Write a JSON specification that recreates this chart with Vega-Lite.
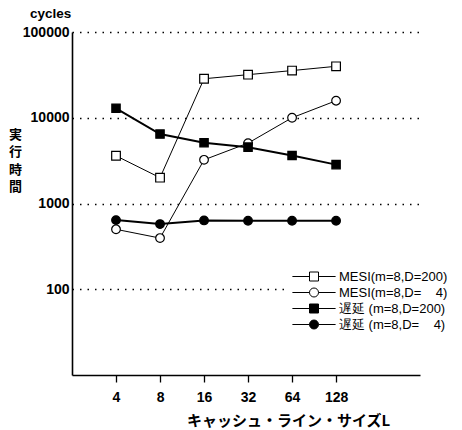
{
  "$schema": "https://vega.github.io/schema/vega-lite/v6.json",
  "width": 348,
  "height": 343,
  "autosize": "none",
  "padding": {"left": 72, "top": 32, "right": 42, "bottom": 55},
  "background": "white",
  "config": {"view": {"stroke": null}, "font": "Liberation Sans",
    "legend": {"title": null, "orient": "none", "legendX": 214.5, "legendY": 234, "fillColor": "white", "padding": 4,
      "labelFont": "Liberation Sans", "labelFontSize": 13, "labelColor": "black", "labelOffset": 18.5,
      "symbolSize": 81, "symbolOffset": 17}},
  "title": {"text": "cycles", "anchor": "start", "frame": "group", "dx": -42, "offset": 5, "fontSize": 13.5, "fontWeight": "bold", "font": "Liberation Sans", "color": "black"},
  "data": {"values": [
    {"L": 4, "series": "MESI(m=8,D=200)", "cycles": 3600},
    {"L": 8, "series": "MESI(m=8,D=200)", "cycles": 2000},
    {"L": 16, "series": "MESI(m=8,D=200)", "cycles": 28500},
    {"L": 32, "series": "MESI(m=8,D=200)", "cycles": 31800},
    {"L": 64, "series": "MESI(m=8,D=200)", "cycles": 35500},
    {"L": 128, "series": "MESI(m=8,D=200)", "cycles": 39800},
    {"L": 4, "series": "MESI(m=8,D=\u2007\u20074)", "cycles": 500},
    {"L": 8, "series": "MESI(m=8,D=\u2007\u20074)", "cycles": 395},
    {"L": 16, "series": "MESI(m=8,D=\u2007\u20074)", "cycles": 3230},
    {"L": 32, "series": "MESI(m=8,D=\u2007\u20074)", "cycles": 5060},
    {"L": 64, "series": "MESI(m=8,D=\u2007\u20074)", "cycles": 10000},
    {"L": 128, "series": "MESI(m=8,D=\u2007\u20074)", "cycles": 15800},
    {"L": 4, "series": "遅延 (m=8,D=200)", "cycles": 12900},
    {"L": 8, "series": "遅延 (m=8,D=200)", "cycles": 6450},
    {"L": 16, "series": "遅延 (m=8,D=200)", "cycles": 5120},
    {"L": 32, "series": "遅延 (m=8,D=200)", "cycles": 4540},
    {"L": 64, "series": "遅延 (m=8,D=200)", "cycles": 3630},
    {"L": 128, "series": "遅延 (m=8,D=200)", "cycles": 2840},
    {"L": 4, "series": "遅延 (m=8,D=\u2007\u20074)", "cycles": 640},
    {"L": 8, "series": "遅延 (m=8,D=\u2007\u20074)", "cycles": 575},
    {"L": 16, "series": "遅延 (m=8,D=\u2007\u20074)", "cycles": 635},
    {"L": 32, "series": "遅延 (m=8,D=\u2007\u20074)", "cycles": 630},
    {"L": 64, "series": "遅延 (m=8,D=\u2007\u20074)", "cycles": 630},
    {"L": 128, "series": "遅延 (m=8,D=\u2007\u20074)", "cycles": 630}
  ]},
  "encoding": {
    "x": {"field": "L", "type": "quantitative",
      "scale": {"type": "log", "base": 2, "domain": [2, 480], "nice": false},
      "axis": {"values": [4, 8, 16, 32, 64, 128], "grid": false, "title": "キャッシュ・ライン・サイズL",
        "titleFont": "Noto Sans CJK JP", "titleFontSize": 15, "titleFontWeight": "bold", "titleColor": "black",
        "titleX": 216, "titleY": 45, "titleBaseline": "middle", "titleAlign": "center",
        "labelFont": "Liberation Sans", "labelFontSize": 14, "labelFontWeight": "bold", "labelColor": "black",
        "labelPadding": 8, "tickSize": 7, "tickColor": "black", "tickWidth": 1.3,
        "domainColor": "black", "domainWidth": 1.6, "labelFlush": false, "format": "d"}},
    "y": {"field": "cycles", "type": "quantitative",
      "scale": {"type": "log", "domain": [10, 100000], "nice": false},
      "axis": {"values": [100, 1000, 10000, 100000], "grid": true, "gridColor": "black", "gridDash": [1.5, 6], "gridWidth": 1.5,
        "title": ["実", "行", "時", "間"], "titleAngle": 0, "titleFont": "Noto Sans CJK JP", "titleFontSize": 13,
        "titleFontWeight": "bold", "titleColor": "black", "titleLineHeight": 17.5, "titleX": -57, "titleY": 96,
        "titleBaseline": "top", "titleAlign": "center",
        "labelFont": "Liberation Sans", "labelFontSize": 14, "labelFontWeight": "bold", "labelColor": "black",
        "labelPadding": 3, "ticks": false, "domainColor": "black", "domainWidth": 1.6, "format": "d", "labelFlush": false}}
  },
  "layer": [
    {
      "transform": [{"filter": "indexof(datum.series, 'MESI') === 0"}],
      "mark": {"type": "line", "color": "black", "strokeWidth": 1},
      "encoding": {"detail": {"field": "series"}}
    },
    {
      "transform": [{"filter": "indexof(datum.series, 'MESI') !== 0"}],
      "mark": {"type": "line", "color": "black", "strokeWidth": 2},
      "encoding": {"detail": {"field": "series"}}
    },
    {
      "transform": [{"filter": "indexof(datum.series, 'MESI') === 0 && indexof(datum.series, 'D=200') >= 0"}],
      "mark": {"type": "point", "shape": "square", "filled": true, "fill": "white", "stroke": "black", "strokeWidth": 1.2, "size": 75, "opacity": 1}
    },
    {
      "transform": [{"filter": "indexof(datum.series, 'MESI') === 0 && indexof(datum.series, 'D=200') < 0"}],
      "mark": {"type": "point", "shape": "circle", "filled": true, "fill": "white", "stroke": "black", "strokeWidth": 1.2, "size": 75, "opacity": 1}
    },
    {
      "transform": [{"filter": "indexof(datum.series, 'MESI') !== 0 && indexof(datum.series, 'D=200') >= 0"}],
      "mark": {"type": "point", "shape": "square", "filled": true, "fill": "black", "stroke": "black", "strokeWidth": 1.2, "size": 70, "opacity": 1}
    },
    {
      "transform": [{"filter": "indexof(datum.series, 'MESI') !== 0 && indexof(datum.series, 'D=200') < 0"}],
      "mark": {"type": "point", "shape": "circle", "filled": true, "fill": "black", "stroke": "black", "strokeWidth": 1.2, "size": 75, "opacity": 1}
    },
    {
      "transform": [{"filter": "datum.cycles < 0"}],
      "mark": {"type": "point", "filled": true, "size": 81, "opacity": 1},
      "encoding": {
        "shape": {"field": "series", "type": "nominal",
          "scale": {"domain": ["MESI(m=8,D=200)", "MESI(m=8,D=\u2007\u20074)", "遅延 (m=8,D=200)", "遅延 (m=8,D=\u2007\u20074)"],
            "range": ["M-4.8,0H-1M1,0H4.8M-1,-1H1V1H-1Z", "M-4.8,0H-1M1,0H4.8M-1,0A1,1,0,1,0,1,0A1,1,0,1,0,-1,0Z", "M-4.8,0H-1M1,0H4.8M-1,-1H1V1H-1Z", "M-4.8,0H-1M1,0H4.8M-1,0A1,1,0,1,0,1,0A1,1,0,1,0,-1,0Z"]}},
        "fill": {"field": "series", "type": "nominal",
          "scale": {"domain": ["MESI(m=8,D=200)", "MESI(m=8,D=\u2007\u20074)", "遅延 (m=8,D=200)", "遅延 (m=8,D=\u2007\u20074)"], "range": ["white", "white", "black", "black"]}},
        "stroke": {"field": "series", "type": "nominal",
          "scale": {"domain": ["MESI(m=8,D=200)", "MESI(m=8,D=\u2007\u20074)", "遅延 (m=8,D=200)", "遅延 (m=8,D=\u2007\u20074)"], "range": ["black", "black", "black", "black"]}},
        "strokeWidth": {"field": "series", "type": "nominal",
          "scale": {"domain": ["MESI(m=8,D=200)", "MESI(m=8,D=\u2007\u20074)", "遅延 (m=8,D=200)", "遅延 (m=8,D=\u2007\u20074)"], "range": [1, 1, 2, 2]}}
      }
    }
  ]
}
